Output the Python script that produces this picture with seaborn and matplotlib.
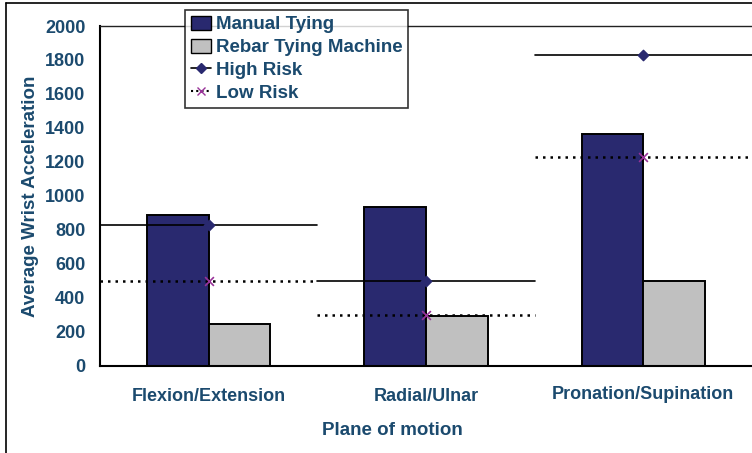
import pandas as pd
import matplotlib.pyplot as plt
import seaborn as sns
from matplotlib.lines import Line2D
from matplotlib.patches import Patch

planes = ["Flexion/Extension", "Radial/Ulnar", "Pronation/Supination"]
manual = [890, 935, 1365]
machine = [250, 295, 500]
high_risk = [830, 500, 1830]
low_risk = [500, 300, 1230]

navy = "#29296f"
gray = "#c0c0c0"
txt = "#1b4a6e"
purple = "#993399"

sns.set_style("white")
plt.rcParams["font.family"] = ["Liberation Sans", "DejaVu Sans"]
plt.rcParams["font.weight"] = "bold"

df = pd.DataFrame({
    "plane": planes * 2,
    "value": manual + machine,
    "method": ["Manual Tying"] * 3 + ["Rebar Tying Machine"] * 3,
})

fig = plt.figure(figsize=(7.52, 4.53), dpi=100)
ax = fig.add_axes([100 / 752, 87 / 453, 652 / 752, 340 / 453])

sns.barplot(data=df, x="plane", y="value", hue="method", palette=[navy, gray],
            saturation=1, width=0.566, edgecolor="black", linewidth=1.4, ax=ax, legend=False)

# risk thresholds drawn across each category
for i in range(len(planes)):
    ax.plot([i - 0.5, i + 0.5], [high_risk[i], high_risk[i]], color="black", lw=1.2, zorder=3)
    ax.plot([i - 0.5, i + 0.5], [low_risk[i], low_risk[i]], color="black", lw=1.8,
            linestyle=(0, (1, 2)), zorder=3)
ax.scatter(range(3), high_risk, marker="D", s=28, color=navy, zorder=4)
ax.scatter(range(3), low_risk, marker="x", s=40, color=purple, linewidths=1.2, zorder=4)

ax.set_ylim(0, 2000)
ax.set_xlim(-0.5, -0.5 + 652 / 219)
ax.set_yticks(range(0, 2001, 200))
ax.set_xticks([-0.5, 0.5, 1.5, 2.5], minor=True)
ax.tick_params(axis="y", direction="inout", length=9, width=1.2, pad=6,
               labelsize=13, labelcolor=txt, color="black")
ax.tick_params(axis="x", which="major", length=0, pad=16, labelsize=13, labelcolor=txt)
ax.tick_params(axis="x", which="minor", direction="inout", length=9, width=1.2, color="black")
for lab in ax.get_xticklabels() + ax.get_yticklabels():
    lab.set_fontweight("bold")
ax.get_xticklabels()[2].set_y(0.008)

ax.set_xlabel("Plane of motion", fontsize=13.5, fontweight="bold", color=txt)
ax.xaxis.set_label_coords(0.448, -0.165)
ax.set_ylabel("Average Wrist Acceleration", fontsize=13.5, fontweight="bold", color=txt, labelpad=4)

for s in ["left", "bottom"]:
    ax.spines[s].set_color("black")
    ax.spines[s].set_linewidth(1.5)
ax.spines["top"].set_color("#222222")
ax.spines["top"].set_linewidth(1.0)
ax.spines["right"].set_visible(False)

handles = [
    Patch(facecolor=navy, edgecolor="black", label="Manual Tying"),
    Patch(facecolor=gray, edgecolor="black", label="Rebar Tying Machine"),
    Line2D([], [], color="black", lw=1.2, marker="D", markersize=5,
           markerfacecolor=navy, markeredgecolor=navy, label="High Risk"),
    Line2D([], [], color="black", lw=1.5, linestyle=(0, (1, 1.5)), marker="x", markersize=6,
           markeredgecolor=purple, label="Low Risk"),
]
leg = fig.legend(handles=handles, loc="upper left", bbox_to_anchor=(185 / 752, 1 - 10 / 453),
                 frameon=True, fancybox=False, shadow=False, fontsize=13.5,
                 handlelength=1.1, handleheight=0.8, handletextpad=0.25,
                 labelspacing=0.28, borderpad=0.3, borderaxespad=0)
leg.get_frame().set_edgecolor("black")
leg.get_frame().set_linewidth(1.2)
for t in leg.get_texts():
    t.set_color(txt)
    t.set_fontweight("bold")

# outer chart frame
fig.add_artist(Line2D([6 / 752, 6 / 752], [0, 1 - 3 / 453], color="black", lw=1.2,
                      transform=fig.transFigure))
fig.add_artist(Line2D([6 / 752, 1], [1 - 3 / 453, 1 - 3 / 453], color="black", lw=1.2,
                      transform=fig.transFigure))

fig.savefig("out.png", dpi=100)
